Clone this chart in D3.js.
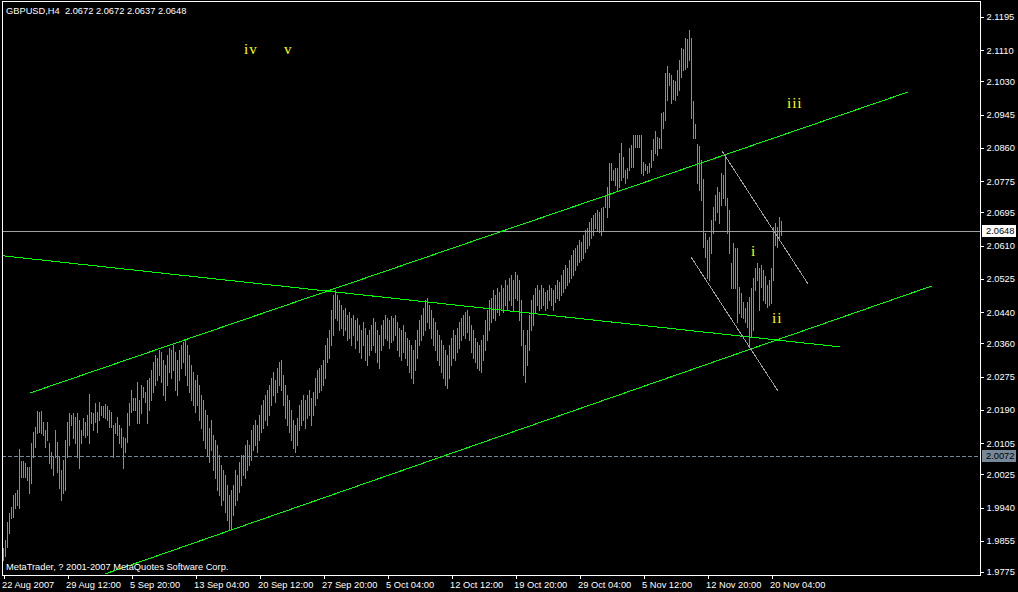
<!DOCTYPE html>
<html><head><meta charset="utf-8">
<script src="https://cdn.jsdelivr.net/npm/d3@7"></script>
<style>body{margin:0;background:#000;overflow:hidden}svg{display:block}text{white-space:pre}</style>
</head><body><svg id="c" width="1018" height="592"></svg>
<script>
// ---------- DATA ----------
const symbolTitle = "GBPUSD,H4  2.0672 2.0672 2.0637 2.0648";
const copyright = "MetaTrader, ? 2001-2007 MetaQuotes Software Corp.";

const highs = [
1.9836,1.9857,1.9903,1.9926,1.9941,1.9972,1.9977,1.9985,2.0090,2.0059,
2.0059,2.0054,2.0043,2.0043,2.0105,2.0133,2.0146,2.0187,2.0184,2.0187,
2.0159,2.0138,2.0159,2.0105,2.0082,2.0069,2.0138,2.0107,2.0069,2.0036,
2.0061,2.0113,2.0159,2.0182,2.0177,2.0182,2.0171,2.0182,2.0164,2.0138,
2.0169,2.0159,2.0177,2.0230,2.0184,2.0182,2.0207,2.0184,2.0210,2.0200,
2.0200,2.0205,2.0200,2.0189,2.0184,2.0151,2.0156,2.0171,2.0151,2.0143,
2.0120,2.0118,2.0182,2.0207,2.0241,2.0220,2.0220,2.0261,2.0215,2.0253,
2.0248,2.0235,2.0266,2.0271,2.0292,2.0312,2.0330,2.0323,2.0343,2.0338,
2.0317,2.0305,2.0330,2.0348,2.0343,2.0356,2.0338,2.0317,2.0343,2.0356,
2.0363,2.0369,2.0356,2.0330,2.0305,2.0287,2.0266,2.0279,2.0253,2.0228,
2.0215,2.0189,2.0177,2.0143,2.0164,2.0125,2.0113,2.0100,2.0074,2.0049,
2.0036,2.0023,1.9997,1.9972,1.9985,1.9997,2.0036,2.0023,2.0056,2.0074,
2.0074,2.0100,2.0113,2.0100,2.0138,2.0151,2.0164,2.0151,2.0177,2.0202,
2.0215,2.0228,2.0241,2.0253,2.0271,2.0287,2.0266,2.0297,2.0312,2.0317,
2.0279,2.0253,2.0228,2.0215,2.0189,2.0164,2.0151,2.0169,2.0202,2.0215,
2.0228,2.0215,2.0228,2.0241,2.0220,2.0235,2.0271,2.0292,2.0297,2.0305,
2.0317,2.0356,2.0374,2.0394,2.0445,2.0484,2.0497,2.0484,2.0471,2.0458,
2.0445,2.0451,2.0433,2.0440,2.0425,2.0433,2.0420,2.0425,2.0407,2.0394,
2.0415,2.0399,2.0381,2.0394,2.0407,2.0425,2.0415,2.0394,2.0381,2.0407,
2.0420,2.0433,2.0425,2.0420,2.0430,2.0425,2.0433,2.0415,2.0399,2.0394,
2.0407,2.0389,2.0374,2.0369,2.0356,2.0343,2.0369,2.0394,2.0420,2.0433,
2.0451,2.0471,2.0476,2.0458,2.0445,2.0425,2.0415,2.0394,2.0381,2.0369,
2.0356,2.0343,2.0330,2.0356,2.0374,2.0394,2.0381,2.0399,2.0415,2.0425,
2.0433,2.0440,2.0445,2.0430,2.0407,2.0394,2.0374,2.0363,2.0356,2.0369,
2.0381,2.0420,2.0445,2.0471,2.0476,2.0497,2.0484,2.0502,2.0491,2.0509,
2.0502,2.0522,2.0509,2.0527,2.0535,2.0522,2.0543,2.0535,2.0522,2.0471,
2.0394,2.0356,2.0394,2.0433,2.0471,2.0484,2.0502,2.0509,2.0497,2.0509,
2.0502,2.0491,2.0497,2.0509,2.0502,2.0497,2.0509,2.0522,2.0517,2.0535,
2.0548,2.0561,2.0553,2.0573,2.0586,2.0599,2.0604,2.0612,2.0625,2.0619,
2.0637,2.0650,2.0655,2.0671,2.0681,2.0689,2.0694,2.0701,2.0696,2.0707,
2.0709,2.0740,2.0760,2.0822,2.0822,2.0804,2.0809,2.0809,2.0847,2.0873,
2.0837,2.0804,2.0809,2.0860,2.0868,2.0893,2.0893,2.0893,2.0893,2.0893,
2.0824,2.0819,2.0814,2.0822,2.0855,2.0883,2.0904,2.0888,2.0886,2.0950,
2.0952,2.1052,2.1070,2.1052,2.1047,2.1034,2.1032,2.1060,2.1085,2.1116,
2.1114,2.1142,2.1139,2.1162,2.1142,2.0980,2.0922,2.0870,2.0865,2.0829,
2.0781,2.0643,2.0625,2.0632,2.0676,2.0709,2.0740,2.0760,2.0747,2.0796,
2.0791,2.0842,2.0732,2.0701,2.0566,2.0617,2.0604,2.0604,2.0504,2.0489,
2.0466,2.0451,2.0466,2.0479,2.0502,2.0527,2.0553,2.0566,2.0553,2.0561,
2.0548,2.0532,2.0509,2.0522,2.0553,2.0658,2.0668,2.0658,2.0683,2.0672
];
const lows = [
1.9805,1.9816,1.9839,1.9875,1.9913,1.9915,1.9939,1.9946,1.9939,2.0018,
2.0018,2.0018,2.0010,1.9977,2.0003,2.0069,2.0095,2.0131,2.0133,2.0131,
2.0125,2.0095,2.0113,2.0054,2.0041,2.0023,2.0069,2.0031,1.9990,1.9959,
1.9977,1.9985,2.0069,2.0100,2.0151,2.0118,2.0105,2.0069,2.0041,2.0105,
2.0125,2.0120,2.0125,2.0105,2.0156,2.0138,2.0159,2.0133,2.0164,2.0177,
2.0171,2.0169,2.0164,2.0146,2.0146,2.0069,2.0131,2.0125,2.0105,2.0095,
2.0041,2.0082,2.0107,2.0151,2.0184,2.0189,2.0189,2.0156,2.0156,2.0182,
2.0223,2.0210,2.0156,2.0189,2.0215,2.0235,2.0253,2.0266,2.0279,2.0261,
2.0228,2.0215,2.0253,2.0287,2.0271,2.0292,2.0241,2.0228,2.0266,2.0297,
2.0312,2.0279,2.0253,2.0235,2.0215,2.0202,2.0184,2.0202,2.0164,2.0143,
2.0113,2.0092,2.0074,2.0056,2.0087,2.0036,2.0015,1.9985,1.9972,1.9946,
1.9959,1.9928,1.9908,1.9882,1.9887,1.9921,1.9946,1.9959,1.9979,1.9997,
2.0023,2.0015,2.0036,2.0049,2.0061,2.0087,2.0100,2.0082,2.0113,2.0133,
2.0143,2.0164,2.0151,2.0177,2.0202,2.0228,2.0210,2.0235,2.0253,2.0241,
2.0202,2.0169,2.0151,2.0133,2.0113,2.0092,2.0082,2.0100,2.0138,2.0151,
2.0164,2.0143,2.0169,2.0177,2.0151,2.0177,2.0202,2.0220,2.0235,2.0241,
2.0253,2.0271,2.0312,2.0323,2.0356,2.0381,2.0425,2.0420,2.0394,2.0399,
2.0381,2.0394,2.0369,2.0374,2.0356,2.0381,2.0348,2.0369,2.0338,2.0323,
2.0356,2.0317,2.0305,2.0330,2.0343,2.0356,2.0338,2.0312,2.0297,2.0343,
2.0356,2.0374,2.0369,2.0348,2.0363,2.0369,2.0381,2.0343,2.0328,2.0317,
2.0338,2.0323,2.0305,2.0287,2.0271,2.0259,2.0292,2.0323,2.0356,2.0369,
2.0381,2.0394,2.0415,2.0399,2.0374,2.0356,2.0343,2.0317,2.0305,2.0287,
2.0271,2.0253,2.0246,2.0271,2.0305,2.0323,2.0317,2.0338,2.0348,2.0369,
2.0381,2.0374,2.0389,2.0369,2.0338,2.0323,2.0312,2.0297,2.0292,2.0287,
2.0317,2.0343,2.0369,2.0394,2.0415,2.0425,2.0420,2.0440,2.0433,2.0451,
2.0440,2.0458,2.0445,2.0471,2.0458,2.0445,2.0476,2.0471,2.0420,2.0356,
2.0279,2.0261,2.0305,2.0343,2.0394,2.0407,2.0440,2.0458,2.0445,2.0451,
2.0458,2.0445,2.0451,2.0471,2.0458,2.0445,2.0466,2.0476,2.0471,2.0484,
2.0491,2.0502,2.0509,2.0517,2.0527,2.0535,2.0548,2.0561,2.0568,2.0573,
2.0579,2.0594,2.0604,2.0612,2.0630,2.0637,2.0655,2.0650,2.0645,2.0637,
2.0650,2.0709,2.0683,2.0709,2.0778,2.0778,2.0765,2.0753,2.0760,2.0778,
2.0786,2.0771,2.0783,2.0804,2.0811,2.0811,2.0863,2.0863,2.0863,2.0796,
2.0791,2.0804,2.0796,2.0799,2.0811,2.0829,2.0847,2.0842,2.0860,2.0860,
2.0911,2.0932,2.0983,2.1021,2.0975,2.0986,2.0983,2.0996,2.1009,2.1042,
2.1060,2.1062,2.1067,2.1085,2.0937,2.0886,2.0886,2.0771,2.0753,2.0727,
2.0607,2.0581,2.0527,2.0522,2.0591,2.0643,2.0676,2.0696,2.0668,2.0714,
2.0732,2.0714,2.0643,2.0591,2.0502,2.0502,2.0502,2.0415,2.0438,2.0427,
2.0425,2.0415,2.0402,2.0351,2.0376,2.0394,2.0497,2.0522,2.0445,2.0504,
2.0471,2.0463,2.0453,2.0458,2.0463,2.0522,2.0612,2.0607,2.0630,2.0637
];

const dateTickBars = [0,32,64,96,128,160,192,224,256,288,320,352,384];
const dateLabels = ["22 Aug 2007","29 Aug 12:00","5 Sep 20:00","13 Sep 04:00","20 Sep 12:00",
  "27 Sep 20:00","5 Oct 04:00","12 Oct 12:00","19 Oct 20:00","29 Oct 04:00",
  "5 Nov 12:00","12 Nov 20:00","20 Nov 04:00"];
const priceTicks = [2.1195,2.1110,2.1030,2.0945,2.0860,2.0775,2.0695,2.0610,2.0525,
  2.0440,2.0360,2.0275,2.0190,2.0105,2.0025,1.9940,1.9855,1.9775];

const lastPrice = 2.0648;     // bid line
const markPrice = 2.0072;     // dashed horizontal line

// trend lines: [bar1, price1, bar2, price2]
const greenLines = [
  [13.5, 2.0233, 452.5, 2.1003],
  [51,   1.9770, 464.5, 2.0507],
  [0,    2.0584, 418.5, 2.0351]
];
const grayLines = [
  [359.5, 2.0852, 402.5, 2.0512],
  [344,   2.0581, 387.5, 2.0238]
];
const waveText  = ["iv","v","iii","i","ii"];
const waveBar   = [120.5, 140.5, 392, 374, 384.5];
const wavePrice = [2.1101, 2.1101, 2.0963, 2.0584, 2.0412];

// ---------- DRAW ----------
const W = 1018, H = 592;
const frame = {l:2, t:1, r:980, b:575};
const svg = d3.select("#c");
svg.append("rect").attr("width",W).attr("height",H).attr("fill","#000");

const x = d3.scaleLinear().domain([0, highs.length-1]).range([3, 3 + 2*(highs.length-1)]);
const y = d3.scaleLinear().domain([1.9775, 2.1195]).range([572, 17]);

svg.append("clipPath").attr("id","clip").append("rect")
  .attr("x",frame.l+1).attr("y",frame.t+1)
  .attr("width",frame.r-frame.l-1).attr("height",frame.b-frame.t-1);
const plot = svg.append("g").attr("clip-path","url(#clip)").attr("shape-rendering","crispEdges");

// dashed line
plot.append("line").attr("x1",frame.l).attr("x2",frame.r)
  .attr("y1",Math.round(y(markPrice))+0.5).attr("y2",Math.round(y(markPrice))+0.5)
  .attr("stroke","#778899").attr("stroke-dasharray","4,2");

// bars
const bars = highs.map((h,i)=>({i, h, l: lows[i]}));
plot.selectAll("line.bar").data(bars).join("line").attr("class","bar")
  .attr("x1",d=>x(d.i)+0.5).attr("x2",d=>x(d.i)+0.5)
  .attr("y1",d=>Math.round(y(d.h))).attr("y2",d=>Math.round(y(d.l))+1)
  .attr("stroke","#32cd32").attr("stroke-width",1);

// bid line
plot.append("line").attr("x1",frame.l).attr("x2",frame.r)
  .attr("y1",Math.round(y(lastPrice))+0.5).attr("y2",Math.round(y(lastPrice))+0.5)
  .attr("stroke","#a0a0a0");

// trend lines
plot.selectAll("line.tg").data(greenLines).join("line").attr("class","tg")
  .attr("x1",d=>x(d[0])).attr("y1",d=>y(d[1])).attr("x2",d=>x(d[2])).attr("y2",d=>y(d[3]))
  .attr("stroke","#00ff00");
plot.selectAll("line.tw").data(grayLines).join("line").attr("class","tw")
  .attr("x1",d=>x(d[0])).attr("y1",d=>y(d[1])).attr("x2",d=>x(d[2])).attr("y2",d=>y(d[3]))
  .attr("stroke","#a0a0a0");

// wave labels
plot.selectAll("text.wave").data(waveText).join("text").attr("class","wave")
  .attr("x",(d,i)=>x(waveBar[i])).attr("y",(d,i)=>y(wavePrice[i]))
  .attr("fill","#ffff00").attr("font-family","'Liberation Serif', serif")
  .attr("font-size","15px").attr("letter-spacing","1px").text(d=>d);

// frame
svg.append("rect").attr("x",frame.l+0.5).attr("y",frame.t+0.5)
  .attr("width",frame.r-frame.l).attr("height",frame.b-frame.t)
  .attr("fill","none").attr("stroke","#fff").attr("shape-rendering","crispEdges");

// right axis
const fontFam = "'Liberation Sans', Arial, sans-serif";
const yAxis = svg.append("g").attr("transform",`translate(${frame.r+0.5},0)`)
  .call(d3.axisRight(y).tickValues(priceTicks).tickSize(3).tickPadding(3).tickFormat(d3.format(".4f")));
yAxis.select(".domain").remove();
yAxis.selectAll("line").attr("stroke","#fff").attr("shape-rendering","crispEdges");
yAxis.selectAll("text").attr("fill","#fff").attr("font-family",fontFam).attr("font-size","9.3px");

// bottom axis
const xAxis = svg.append("g").attr("transform",`translate(0.5,${frame.b+0.5})`)
  .call(d3.axisBottom(x).tickValues(dateTickBars).tickSize(3).tickPadding(3)
    .tickFormat((d,i)=>dateLabels[i]));
xAxis.select(".domain").remove();
xAxis.selectAll("line").attr("stroke","#fff").attr("shape-rendering","crispEdges");
xAxis.selectAll("text").attr("fill","#fff").attr("font-family",fontFam).attr("font-size","9.3px")
  .attr("text-anchor","start").attr("dx","-2");

// price labels
function priceTag(p, bg){
  const yy = Math.round(y(p));
  svg.append("rect").attr("x",frame.r+2).attr("y",yy-6).attr("width",34).attr("height",12)
    .attr("fill",bg);
  svg.append("text").attr("x",frame.r+6).attr("y",yy).attr("dy","0.35em")
    .attr("fill","#000").attr("font-family",fontFam).attr("font-size","9.3px")
    .text(d3.format(".4f")(p));
}
priceTag(lastPrice, "#ffffff");
priceTag(markPrice, "#778899");

// title & copyright
svg.append("text").attr("x",6).attr("y",14).attr("fill","#fff")
  .attr("font-family",fontFam).attr("font-size","9.3px").text(symbolTitle);
svg.append("text").attr("x",6).attr("y",570).attr("fill","#fff")
  .attr("font-family",fontFam).attr("font-size","9.3px").text(copyright);
</script></body></html>
